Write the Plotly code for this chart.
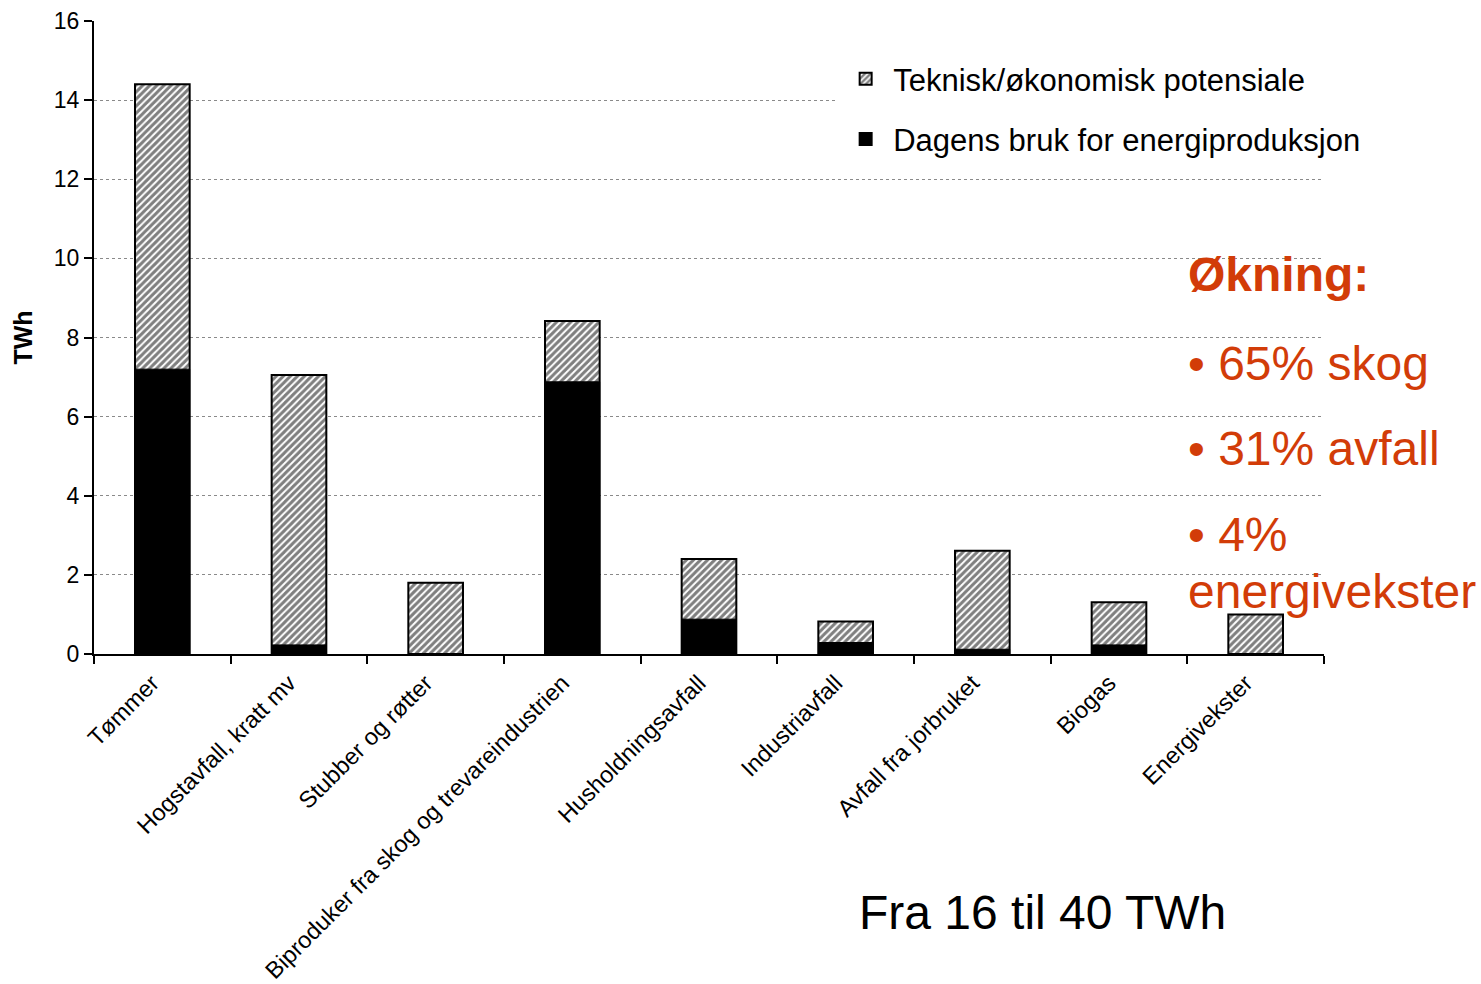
import plotly.graph_objects as go

# Energy sources (TWh)
kategorier = [
    "Tømmer",
    "Hogstavfall, kratt mv",
    "Stubber og røtter",
    "Biproduker fra skog og trevareindustrien",
    "Husholdningsavfall",
    "Industriavfall",
    "Avfall fra jorbruket",
    "Biogas",
    "Energivekster",
]
potensiale = [14.4, 7.05, 1.8, 8.42, 2.4, 0.82, 2.61, 1.31, 1.0]
dagens_bruk = [7.2, 0.23, 0.0, 6.88, 0.88, 0.29, 0.12, 0.23, 0.0]

y_ticks = [0, 2, 4, 6, 8, 10, 12, 14, 16]

FONT = "Arial, Liberation Sans, sans-serif"
RED = "#D23C08"

fig = go.Figure()

fig.add_trace(go.Bar(
    x=kategorier,
    y=potensiale,
    name="Teknisk/økonomisk potensiale",
    legendgroup="a",
    width=0.4,
    marker=dict(
        color="white",
        line=dict(color="black", width=2),
        pattern=dict(shape="/", fgcolor="black", bgcolor="white",
                     size=5, solidity=0.6),
    ),
))

fig.add_trace(go.Bar(
    x=kategorier,
    y=dagens_bruk,
    name="Dagens bruk for energiproduksjon",
    legendgroup="b",
    width=0.4,
    marker=dict(color="black", line=dict(color="black", width=1)),
))

fig.update_layout(
    barmode="overlay",
    width=1481,
    height=984,
    margin=dict(l=94, r=157, t=21, b=330),
    paper_bgcolor="white",
    plot_bgcolor="white",
    font=dict(family=FONT, color="black"),
    showlegend=True,
    legend=dict(
        x=0.605, y=0.951, xanchor="left", yanchor="top",
        bgcolor="white",
        font=dict(size=31, family=FONT),
        traceorder="grouped",
        tracegroupgap=17,
        itemwidth=45,
        itemsizing="constant",
    ),
    xaxis=dict(
        type="category",
        automargin=False,
        showline=True, linecolor="black", linewidth=2,
        ticks="outside", tickson="boundaries", ticklen=8,
        tickcolor="black", tickwidth=2,
        tickangle=-45,
        ticklabelshift=-10,
        ticklabelstandoff=4,
        tickfont=dict(size=23.5, family=FONT),
        showgrid=False,
    ),
    yaxis=dict(
        range=[0, 16],
        automargin=False,
        tickvals=y_ticks,
        showline=True, linecolor="black", linewidth=2,
        ticks="outside", ticklen=8, tickcolor="black", tickwidth=2,
        tickfont=dict(size=23, family=FONT),
        showgrid=True, gridcolor="#8a8a8a", gridwidth=1, griddash="dot",
        zeroline=False,
        title=dict(text="<b>TWh</b>", font=dict(size=25, family=FONT), standoff=14),
    ),
)

notes = [
    ("<b>Økning:</b>", 0.599),
    ("• 65% skog", 0.4597),
    ("• 31% avfall", 0.3239),
    ("• 4%", 0.188),
    ("energivekster", 0.098),
]
for txt, yp in notes:
    fig.add_annotation(
        text=txt, xref="paper", yref="paper", x=0.8878, y=yp,
        xanchor="left", yanchor="middle", showarrow=False,
        font=dict(size=48, color=RED, family=FONT),
    )

fig.add_annotation(
    text="Fra 16 til 40 TWh", xref="paper", yref="paper",
    x=0.6205, y=-0.4076, xanchor="left", yanchor="middle", showarrow=False,
    font=dict(size=48, color="black", family=FONT),
)

fig.write_html("out.html")
